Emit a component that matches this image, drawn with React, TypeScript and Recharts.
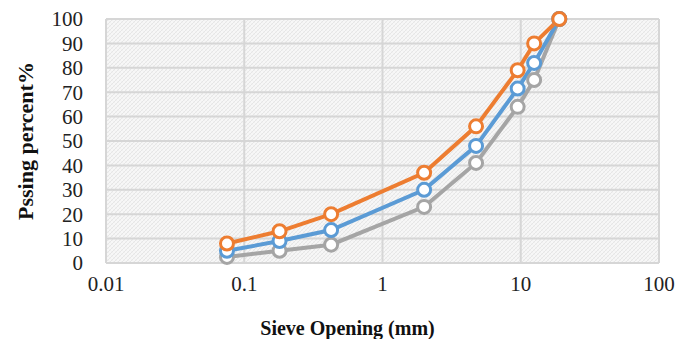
import React from 'react';
import {
    LineChart,
    Line,
    XAxis,
    YAxis,
    CartesianGrid,
} from 'recharts';

// sieve sizes (mm) and passing percentages
const sieves = [0.075, 0.18, 0.425, 2, 4.75, 9.5, 12.5, 19];
const upper = [8, 13, 20, 37, 56, 79, 90, 100];
const middle = [5, 9, 13.5, 30, 48, 71.5, 82, 100];
const lower = [2.5, 5, 7.5, 23, 41, 64, 75, 100];

const xTicks = [0.01, 0.1, 1, 10, 100];
const yTicks = [0, 10, 20, 30, 40, 50, 60, 70, 80, 90, 100];

const data = sieves.map((s, i) => ({
    size: s,
    upper: upper[i],
    middle: middle[i],
    lower: lower[i],
}));

const font = '"Liberation Serif", "Times New Roman", serif';

const dot = (color: string) => ({ r: 6.5, stroke: color, strokeWidth: 3, fill: '#ffffff' });

const App: React.FC = () => {
    return (
        <div style={{ position: 'absolute', left: 0, top: 0, width: 691, height: 339, background: '#fff' }}>
            <LineChart
                width={691}
                height={339}
                data={data}
                margin={{ top: 19, right: 32, left: 0, bottom: 0 }}
            >
                <defs>
                    <pattern id="hatch" width="4" height="4" patternUnits="userSpaceOnUse">
                        <rect width="4" height="4" fill="#f7f7f7" />
                        <path d="M0,4 L4,0" stroke="#e2e2e2" strokeWidth="0.8" />
                        <path d="M0,0 L4,4" stroke="#ececec" strokeWidth="0.6" />
                    </pattern>
                </defs>
                <CartesianGrid
                    stroke="#d6d6d6"
                    strokeWidth={2}
                    fill="url(#hatch)"
                    fillOpacity={1}
                    horizontal
                    vertical
                />
                <XAxis
                    dataKey="size"
                    type="number"
                    scale="log"
                    domain={[0.01, 100]}
                    ticks={xTicks}
                    allowDataOverflow
                    axisLine={false}
                    tickLine={false}
                    tickSize={0}
                    tickMargin={13}
                    height={76}
                    tick={{ fill: '#222', fontSize: 21, fontFamily: font }}
                    tickFormatter={(v: number) => String(v)}
                    label={{
                        value: 'Sieve Opening (mm)',
                        position: 'insideBottom',
                        offset: 4,
                        dx: -35,
                        fill: '#111',
                        fontSize: 20,
                        fontWeight: 'bold',
                        fontFamily: font,
                    }}
                />
                <YAxis
                    type="number"
                    domain={[0, 100]}
                    ticks={yTicks}
                    interval={0}
                    axisLine={false}
                    tickLine={false}
                    tickSize={0}
                    tickMargin={23}
                    width={106}
                    tick={{ fill: '#222', fontSize: 21, fontFamily: font }}
                    label={{
                        value: 'Pssing percent%',
                        angle: -90,
                        position: 'insideLeft',
                        offset: 25,
                        style: { textAnchor: 'middle' },
                        fill: '#111',
                        fontSize: 22,
                        fontWeight: 'bold',
                        fontFamily: font,
                    }}
                />
                <Line
                    type="linear"
                    dataKey="lower"
                    stroke="#A5A5A5"
                    strokeWidth={4}
                    dot={dot('#A5A5A5')}
                    activeDot={false}
                    isAnimationActive={false}
                />
                <Line
                    type="linear"
                    dataKey="middle"
                    stroke="#5B9BD5"
                    strokeWidth={4}
                    dot={dot('#5B9BD5')}
                    activeDot={false}
                    isAnimationActive={false}
                />
                <Line
                    type="linear"
                    dataKey="upper"
                    stroke="#ED7D31"
                    strokeWidth={4}
                    dot={dot('#ED7D31')}
                    activeDot={false}
                    isAnimationActive={false}
                />
            </LineChart>
        </div>
    );
};

export default App;
